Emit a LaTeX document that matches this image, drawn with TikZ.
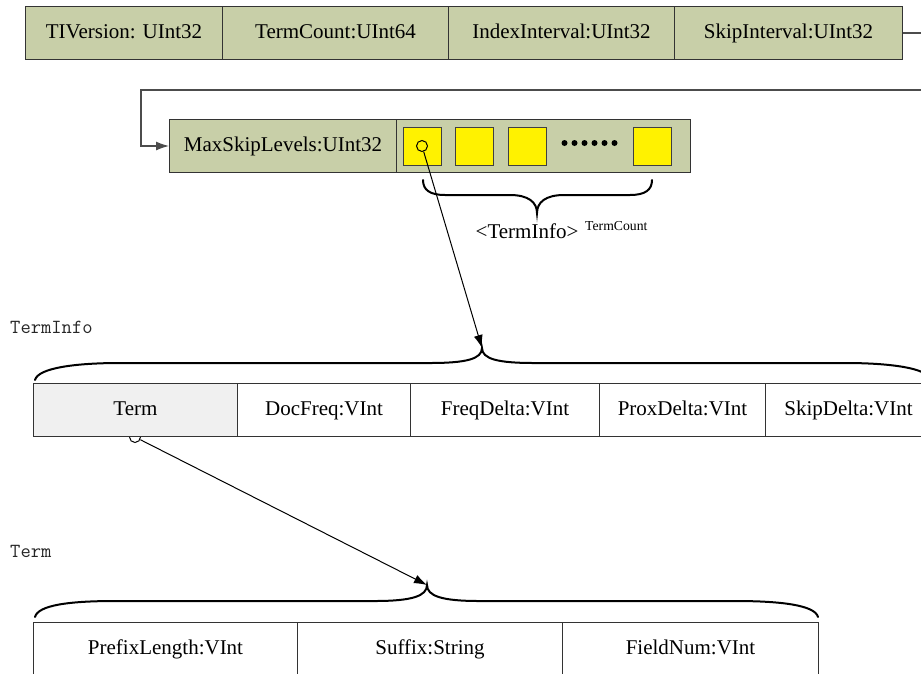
\documentclass[tikz,border=0pt]{standalone}
\usepackage{fontspec}
\setmainfont{Liberation Serif}
\usetikzlibrary{arrows.meta}

\definecolor{fieldolive}{RGB}{200,207,168}
\definecolor{termgray}{RGB}{240,240,240}

\tikzset{
	field/.style={draw=black!80, line width=1pt, minimum height=53pt, inner sep=0pt, text height=14pt, text depth=4pt, anchor=north west, font=\fontsize{21}{24}\selectfont},
	slot/.style={draw=black!75, line width=1pt, fill=yellow, minimum size=38pt, inner sep=0pt, anchor=north west},
	brace/.style={line width=2pt, line cap=round},
	pointer/.style={line width=1pt, -{Latex[length=13pt,width=9pt]}, black},
	monolabel/.style={anchor=base west, inner sep=0pt, font=\ttfamily\fontsize{20}{22}\selectfont, black!85}
}

\begin{document}
\begin{tikzpicture}[x=1pt,y=1pt,yscale=-1,xscale=1]
		\useasboundingbox (0,0) rectangle (921,673);

		% Header fields
		\node[field, fill=fieldolive, minimum width=197pt] (tiversion) at (25,6) {TIVersion: UInt32};
		\node[field, fill=fieldolive, minimum width=226pt] (termcount) at (222,6) {TermCount:UInt64};
		\node[field, fill=fieldolive, minimum width=226pt] (indexinterval) at (448,6) {IndexInterval:UInt32};
		\node[field, fill=fieldolive, minimum width=228pt] (skipinterval) at (674,6) {SkipInterval:UInt32};

		% Second line of the header and the TermInfo slots
		\node[field, fill=fieldolive, minimum width=227pt] (maxskip) at (169,119) {MaxSkipLevels:UInt32};
		\node[field, fill=fieldolive, minimum width=294pt] (slots) at (396,119) {};
		\node[slot] (slot1) at (403,127) {};
		\node[slot] (slot2) at (455,127) {};
		\node[slot] (slot3) at (508,127) {};
		\node[slot] (slotn) at (633,127) {};
		\foreach \i in {0,...,5}
			\fill (564.5+10*\i,143) circle (3);
		\node[circle, draw, line width=1pt, inner sep=0pt, minimum size=11pt] (infoptr) at (422,146) {};

		% Wrap from the first line to the second one
		\draw[black!70, line width=1.2pt, -{Latex[length=13pt,width=9pt]}] (skipinterval.east) -- (935,33) -- (935,90) -- (141,90) |- (maxskip.west);

		% Brace under the slots
		\draw[brace] (423,180) .. controls (423,190) and (430,195) .. (445,195) -- (510,195)
			.. controls (528,195) and (537,202) .. (537,213)
			.. controls (537,202) and (546,195) .. (564,195) -- (630,195)
			.. controls (645,195) and (652,190) .. (652,180);
		\node[anchor=base, inner sep=0pt, font=\fontsize{21}{24}\selectfont] (slotlabel) at (527,238) {<TermInfo>};
		\node[anchor=base west, inner sep=0pt, font=\fontsize{13.7}{15}\selectfont] (slotcount) at (585,230) {TermCount};

		% TermInfo record
		\node[monolabel] (terminfolabel) at (10,333) {TermInfo};
		\coordinate (infotip) at (482,348);
		\draw[brace] (35,380) .. controls (38,368) and (75,363) .. (120,363) -- (430,363)
			.. controls (466,363) and (482,359) .. (482,348)
			.. controls (482,359) and (498,363) .. (534,363) -- (845,363)
			.. controls (890,363) and (928,368) .. (931,380);
		\node[circle, draw, line width=1pt, fill=white, inner sep=0pt, minimum size=11pt] (termptr) at (135,437) {};
		\node[field, fill=termgray, minimum width=204pt] (term) at (33,383) {Term};
		\node[field, minimum width=173pt] (docfreq) at (237,383) {DocFreq:VInt};
		\node[field, minimum width=189pt] (freqdelta) at (410,383) {FreqDelta:VInt};
		\node[field, minimum width=166pt] (proxdelta) at (599,383) {ProxDelta:VInt};
		\node[field, minimum width=166pt] (skipdelta) at (765,383) {SkipDelta:VInt};
		\draw[pointer] (infoptr) -- (infotip);

		% Term record
		\node[monolabel] (termlabel) at (10,557) {Term};
		\coordinate (termtip) at (427,585);
		\draw[brace] (35,617) .. controls (38,605) and (70,601) .. (115,601) -- (375,601)
			.. controls (412,601) and (427,596) .. (427,585)
			.. controls (427,596) and (442,601) .. (479,601) -- (735,601)
			.. controls (780,601) and (815,605) .. (818,617);
		\node[field, minimum width=264pt] (prefixlength) at (33,622) {PrefixLength:VInt};
		\node[field, minimum width=265pt] (suffix) at (297,622) {Suffix:String};
		\node[field, minimum width=256pt] (fieldnum) at (562,622) {FieldNum:VInt};
		\draw[pointer] (termptr) -- (termtip);
	\end{tikzpicture}
\end{document}
